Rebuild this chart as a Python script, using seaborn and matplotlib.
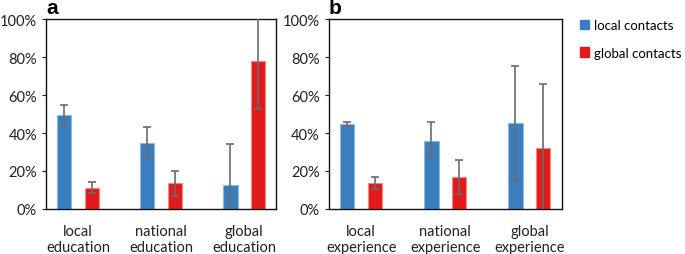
import pandas as pd
import numpy as np
import seaborn as sns
import matplotlib.pyplot as plt
from matplotlib.ticker import PercentFormatter
from matplotlib.patches import Patch

# data (percent)
edu_cats = ["local\neducation", "national\neducation", "global\neducation"]
exp_cats = ["local\nexperience", "national\nexperience", "global\nexperience"]
series = ["local contacts", "global contacts"]

edu_local = [49.5, 34.6, 12.8]
edu_local_lo = [44.2, 26.7, -10.0]
edu_local_hi = [54.9, 43.0, 34.2]
edu_global = [11.0, 13.9, 77.9]
edu_global_lo = [8.2, 7.0, 52.5]
edu_global_hi = [14.0, 20.0, 104.0]

exp_local = [44.7, 36.0, 45.4]
exp_local_lo = [43.7, 26.1, 14.9]
exp_local_hi = [46.0, 45.8, 75.4]
exp_global = [13.5, 17.0, 31.9]
exp_global_lo = [10.4, 8.1, -3.0]
exp_global_hi = [16.8, 26.0, 66.0]

colors = ["#3a7ebf", "#e31a1c"]
edges = ["#8fb8e0", "#f08a8a"]

plt.rcParams['font.family'] = ['Lato', 'DejaVu Sans']

fig = plt.figure(figsize=(6.85, 2.55), dpi=100)
ax_a = fig.add_axes([0.0672, 0.1765, 0.336, 0.745])
ax_b = fig.add_axes([0.480, 0.1765, 0.340, 0.745])


def panel(ax, cats, loc, loc_lo, loc_hi, glo, glo_lo, glo_hi, letter):
    df = pd.DataFrame({
        "cat": cats * 2,
        "series": [series[0]] * 3 + [series[1]] * 3,
        "val": loc + glo,
    })
    sns.barplot(data=df, x="cat", y="val", hue="series", order=cats,
                hue_order=series, palette=colors, width=0.66, gap=0.485,
                errorbar=None, legend=False, ax=ax, saturation=1)
    lows = [loc_lo, glo_lo]
    highs = [loc_hi, glo_hi]
    vals = [loc, glo]
    bar_conts = list(ax.containers)
    for i, cont in enumerate(bar_conts):
        for j, bar in enumerate(cont):
            bar.set_edgecolor(edges[i])
            bar.set_linewidth(0.8)
            xc = bar.get_x() + bar.get_width() / 2
            v = vals[i][j]
            ax.errorbar(xc, v, yerr=[[v - lows[i][j]], [highs[i][j] - v]],
                        fmt="none", ecolor="#6b6b6b", elinewidth=1.2,
                        capsize=3, capthick=1.2, zorder=5)
    ax.set_xlim(-0.385, 2.385)
    ax.set_ylim(0, 100)
    ax.set_yticks(np.arange(0, 101, 20))
    ax.yaxis.set_major_formatter(PercentFormatter(decimals=0))
    ax.set_xlabel("")
    ax.set_ylabel("")
    ax.tick_params(axis="x", length=0, pad=11, labelsize=10.5, colors="#222222")
    ax.tick_params(axis="y", length=3, labelsize=10.5, colors="#222222")
    for s in ax.spines.values():
        s.set_linewidth(1.0)
        s.set_color("#111111")
    ax.text(0.0, 1.01, letter, transform=ax.transAxes, fontsize=15,
            fontweight="bold", va="bottom", ha="left",
            family=["Liberation Sans", "DejaVu Sans"])


panel(ax_a, edu_cats, edu_local, edu_local_lo, edu_local_hi,
      edu_global, edu_global_lo, edu_global_hi, "a")
panel(ax_b, exp_cats, exp_local, exp_local_lo, exp_local_hi,
      exp_global, exp_global_lo, exp_global_hi, "b")

handles = [Patch(facecolor=c, edgecolor=c) for c in colors]
fig.legend(handles, series, loc="upper left", bbox_to_anchor=(0.847, 0.92),
           frameon=False, fontsize=9.5, handlelength=0.7, handleheight=0.7,
           handletextpad=0.35, labelspacing=1.15, borderpad=0,
           borderaxespad=0)

fig.savefig("out.png", dpi=100)
